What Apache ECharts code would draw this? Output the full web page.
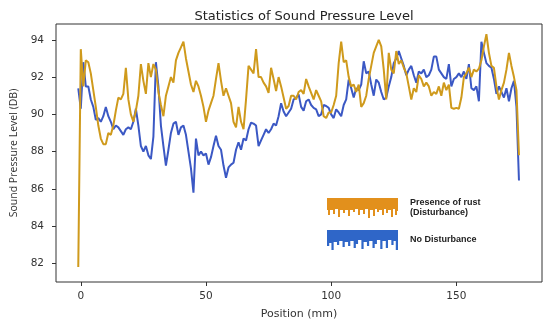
<!DOCTYPE html>
<html>
<head>
<meta charset="utf-8">
<script src="https://cdn.jsdelivr.net/npm/echarts@6/dist/echarts.min.js"></script>
<style>
html,body{margin:0;padding:0;background:#fff;}
#chart{width:550px;height:325px;}
</style>
</head>
<body>
<div id="chart"></div>
<script>
// Position of the first sample (mm) and sample step (mm)
var startPosition = -1;
var positionStep = 1;

// Presence of rust (Disturbance), dB
var rustValues = [
81.8, 93.5, 91.5, 92.9, 92.8, 92.2, 91.3, 90.4, 89.4, 88.7,
88.4, 88.4, 89.0, 88.9, 89.4, 90.2, 90.9, 90.8, 91.1, 92.5,
90.8, 90.0, 89.6, 90.2, 91.0, 92.7, 91.8, 91.1, 92.75, 92.0,
92.7, 92.4, 91.2, 90.5, 89.9, 91.0, 91.5, 92.0, 91.7, 92.9,
93.3, 93.6, 93.9, 93.0, 92.3, 91.6, 91.2, 91.8, 91.5, 91.0,
90.4, 89.6, 90.2, 90.6, 91.0, 91.9, 92.75, 91.8, 91.0, 91.4,
91.0, 90.6, 89.6, 89.3, 90.4, 89.6, 89.2, 90.8, 92.6, 92.4,
92.2, 93.5, 92.0, 92.0, 91.7, 91.5, 91.15, 92.5, 91.9, 91.25,
92.0, 91.5, 90.9, 90.3, 90.45, 91.0, 91.0, 90.8, 91.2, 91.3,
91.1, 91.9, 91.5, 91.15, 90.8, 91.3, 91.0, 90.7, 89.9, 89.8,
90.1, 90.1, 90.5, 91.0, 92.75, 93.9, 92.8, 92.9, 92.0, 91.5,
91.6, 91.2, 91.6, 90.4, 90.6, 91.0, 91.9, 92.6, 93.3, 93.65,
94.0, 93.65, 92.4, 90.8, 93.3, 92.4, 92.2, 93.4, 92.7, 92.9,
92.5, 92.2, 91.5, 90.8, 91.4, 91.2, 92.1, 91.9, 91.5, 91.7,
91.5, 91.0, 91.2, 91.1, 91.5, 91.0, 91.7, 91.3, 91.6, 90.35,
90.3, 90.35, 90.3, 90.9, 92.0, 92.2, 92.5, 92.0, 92.4, 92.3,
92.45, 92.9, 93.65, 94.3, 93.3, 92.6, 92.5, 91.5, 90.8, 91.3,
91.7, 92.4, 93.3, 92.6, 92.0, 91.3, 87.8
];

// No Disturbance, dB
var noDistValues = [
91.4, 90.3, 92.8, 91.5, 91.5, 90.8, 90.4, 89.7, 89.8, 89.6,
89.9, 90.4, 89.9, 89.6, 89.2, 89.4, 89.3, 89.1, 88.9, 89.2,
89.3, 89.2, 89.6, 90.3, 89.4, 88.3, 88.0, 88.3, 87.8, 87.6,
88.8, 92.8, 91.5, 89.4, 88.3, 87.25, 88.1, 89.0, 89.5, 89.6,
88.9, 89.3, 89.4, 88.9, 88.0, 87.1, 85.8, 88.7, 87.8, 88.0,
87.8, 87.9, 87.3, 87.7, 88.3, 88.85, 88.3, 88.1, 87.25, 86.6,
87.15, 87.3, 87.4, 88.1, 88.5, 88.1, 88.7, 88.6, 89.2, 89.55,
89.5, 89.4, 88.3, 88.6, 88.9, 89.2, 89.0, 89.2, 89.5, 89.4,
89.9, 90.6, 90.15, 89.9, 90.1, 90.3, 90.8, 90.9, 91.07, 90.4,
90.2, 90.7, 90.8, 90.5, 90.35, 90.27, 89.9, 90.0, 90.5, 90.45,
90.35, 90.0, 89.8, 90.27, 90.1, 89.9, 90.5, 90.8, 91.87, 91.4,
90.9, 91.4, 91.3, 91.6, 92.85, 92.2, 92.3, 91.6, 91.0, 91.87,
91.7, 91.2, 90.8, 90.9, 91.5, 92.0, 92.75, 93.0, 93.4, 93.0,
92.6, 92.1, 92.4, 92.6, 92.1, 91.7, 92.3, 92.2, 92.4, 92.0,
92.1, 92.4, 93.1, 93.1, 92.4, 92.2, 92.0, 91.9, 92.7, 91.5,
91.9, 92.0, 92.2, 92.0, 92.3, 91.9, 92.7, 91.4, 91.3, 91.5,
90.7, 93.9, 93.3, 92.75, 92.6, 92.5, 91.9, 91.1, 91.5, 91.2,
90.9, 91.4, 90.7, 91.4, 91.8, 90.4, 86.45
];

var xTicks = [0, 50, 100, 150];
var yTicks = [82, 84, 86, 88, 90, 92, 94];

var seriesNames = ['Presence of rust (Disturbance)', 'No Disturbance'];

function toPairs(values) {
  var out = [];
  for (var i = 0; i < values.length; i++) {
    out.push([startPosition + i * positionStep, values[i]]);
  }
  return out;
}

var rustIcon = 'path://M0,0L71,0L71,13L70,13L70,17L68,17L68,11L66,11L66,19L64,19L64,12L61,12L61,15L59,15L59,11L57,11L57,17L55,17L55,12L52,12L52,14L50,14L50,11L48,11L48,18L46,18L46,12L43,12L43,20L41,20L41,11L38,11L38,16L36,16L36,12L33,12L33,17L31,17L31,11L28,11L28,14L26,14L26,12L23,12L23,18L21,18L21,12L18,12L18,15L16,15L16,12L13,12L13,19L11,19L11,11L8,11L8,16L6,16L6,12L3,12L3,17L1,17L1,12L0,12Z';
var blueIcon = 'path://M0,0L64,0L64,20L62,20L62,11L60,11L60,15L58,15L58,10L55,10L55,18L53,18L53,11L50,11L50,19L48,19L48,10L45,10L45,14L43,14L43,18L41,18L41,11L38,11L38,16L36,16L36,12L33,12L33,19L31,19L31,10L28,10L28,14L26,14L26,18L24,18L24,11L21,11L21,16L19,16L19,12L16,12L16,17L14,17L14,11L11,11L11,15L9,15L9,12L6,12L6,20L4,20L4,13L2,13L2,16L0,16Z';

var chart = echarts.init(document.getElementById('chart'), null, {renderer: 'canvas'});
chart.setOption({
  backgroundColor: '#ffffff',
  animation: false,
  title: {
    text: 'Statistics of Sound Pressure Level',
    left: 299, top: 5, textAlign: 'center',
    textStyle: {fontFamily: 'DejaVu Sans', fontSize: 13, fontWeight: 'normal', color: '#222'}
  },
  legend: {
    orient: 'vertical',
    left: 322, top: 193,
    itemWidth: 71, itemHeight: 20, itemGap: 12,
    symbolKeepAspect: false,
    data: [
      {name: seriesNames[0], icon: rustIcon, itemStyle: {color: '#E2901C'}},
      {name: seriesNames[1], icon: blueIcon, itemStyle: {color: '#2F66C8'}}
    ],
    formatter: function (n) {
      return n === seriesNames[0] ? 'Presence of rust\n(Disturbance)' : n;
    },
    textStyle: {fontFamily: 'Liberation Sans', fontSize: 9, fontWeight: 'bold', color: '#222', lineHeight: 10, padding: [0, 0, 0, 7]}
  },
  grid: {
    left: 56, right: 8, top: 24, bottom: 41,
    show: true, borderColor: '#333', borderWidth: 1, backgroundColor: 'transparent'
  },
  xAxis: {
    type: 'value', min: -9.9, max: 184.2,
    name: 'Position (mm)', nameLocation: 'middle', nameGap: 27,
    nameTextStyle: {fontFamily: 'DejaVu Sans', fontSize: 11, color: '#333'},
    axisLine: {show: false, onZero: false},
    axisTick: {show: true, length: 4, customValues: xTicks, lineStyle: {color: '#333'}},
    axisLabel: {customValues: xTicks, margin: 9, fontFamily: 'DejaVu Sans', fontSize: 10.5, color: '#333'},
    splitLine: {show: false}
  },
  yAxis: {
    type: 'value', min: 81.0, max: 94.85,
    name: 'Sound Pressure Level (DB)', nameLocation: 'middle', nameGap: 34,
    nameTextStyle: {fontFamily: 'Open Sans', fontSize: 10.5, color: '#333'},
    axisLine: {show: false, onZero: false},
    axisTick: {show: true, length: 4, customValues: yTicks, lineStyle: {color: '#333'}},
    axisLabel: {customValues: yTicks, margin: 12, fontFamily: 'DejaVu Sans', fontSize: 10.5, color: '#333'},
    splitLine: {show: false}
  },
  series: [
    {
      name: seriesNames[1], type: 'line', showSymbol: false, z: 2,
      data: toPairs(noDistValues),
      lineStyle: {color: '#3B58C4', width: 2}, itemStyle: {color: '#3B58C4'}
    },
    {
      name: seriesNames[0], type: 'line', showSymbol: false, z: 3,
      data: toPairs(rustValues),
      lineStyle: {color: '#CF9A1C', width: 2}, itemStyle: {color: '#CF9A1C'}
    }
  ]
});
</script>
</body>
</html>
